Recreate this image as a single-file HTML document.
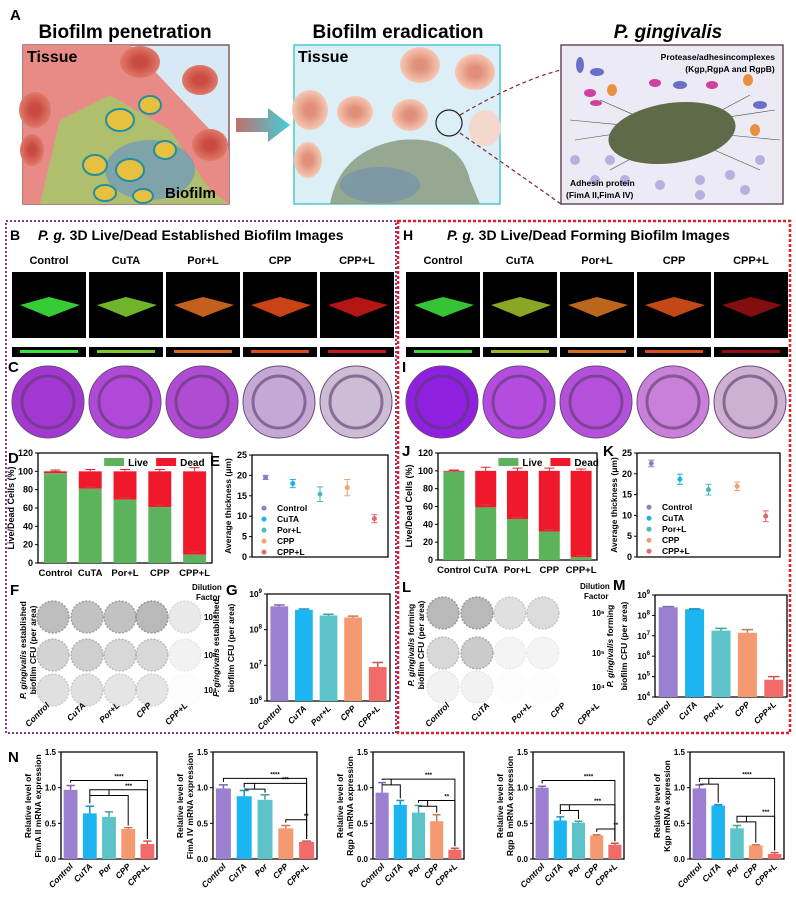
<!DOCTYPE html>
<html><head><meta charset="utf-8">
<style>
html,body{margin:0;padding:0;background:#fff;}
svg{display:block;font-family:"Liberation Sans",Arial,sans-serif;}
.b{font-weight:bold;}
</style></head>
<body>
<svg id="fig" width="796" height="898" viewBox="0 0 796 898" xmlns="http://www.w3.org/2000/svg">
<defs>
<linearGradient id="arrowG" x1="0" x2="1"><stop offset="0" stop-color="#c07070"/><stop offset="1" stop-color="#40d0d8"/></linearGradient>
<radialGradient id="cellG"><stop offset="0.3" stop-color="#c84a40"/><stop offset="1" stop-color="#e07a6a"/></radialGradient>
<radialGradient id="cellP"><stop offset="0.3" stop-color="#e0907a"/><stop offset="1" stop-color="#f6c8b4"/></radialGradient>
</defs>
<g>
<text x="10" y="20" font-size="15" class="b">A</text>
<text x="125" y="38" font-size="19" class="b" text-anchor="middle">Biofilm penetration</text>
<text x="398" y="38" font-size="19" class="b" text-anchor="middle">Biofilm eradication</text>
<text x="668" y="38" font-size="19" class="b" font-style="italic" text-anchor="middle">P. gingivalis</text>
<g>
<rect x="23" y="45" width="206" height="159" fill="#d8e8f4" stroke="#8a5a5a" stroke-width="1.5"/>
<polygon points="23,45 130,45 229,150 229,204 23,204" fill="#e88a86"/>
<ellipse cx="140" cy="62" rx="20" ry="16" fill="url(#cellG)"/><ellipse cx="200" cy="80" rx="18" ry="15" fill="url(#cellG)"/>
<ellipse cx="35" cy="110" rx="16" ry="18" fill="url(#cellG)"/><ellipse cx="210" cy="145" rx="18" ry="16" fill="url(#cellG)"/><ellipse cx="32" cy="150" rx="12" ry="16" fill="url(#cellG)"/>
<polygon points="40,204 60,120 110,95 170,130 210,190 229,204" fill="#a9c46a" opacity="0.9"/>
<ellipse cx="150" cy="170" rx="45" ry="30" fill="#6a98c4" opacity="0.7"/>
<g fill="#e8c040" stroke="#2090a0" stroke-width="2"><ellipse cx="120" cy="120" rx="14" ry="11"/><ellipse cx="150" cy="105" rx="11" ry="9"/><ellipse cx="95" cy="165" rx="12" ry="10"/><ellipse cx="130" cy="170" rx="14" ry="11"/><ellipse cx="165" cy="150" rx="11" ry="9"/><ellipse cx="105" cy="193" rx="11" ry="8"/><ellipse cx="143" cy="196" rx="10" ry="7"/></g>
<text x="27" y="62" font-size="16" class="b">Tissue</text>
<text x="165" y="198" font-size="15" class="b">Biofilm</text>
</g>
<polygon points="236,118 268,118 268,108 290,125 268,142 268,132 236,132" fill="url(#arrowG)"/>
<g>
<rect x="294" y="45" width="206" height="159" fill="#dceef6" stroke="#4cc8cc" stroke-width="1.5"/>
<ellipse cx="420" cy="65" rx="20" ry="18" fill="url(#cellP)"/><ellipse cx="475" cy="72" rx="20" ry="18" fill="url(#cellP)"/><ellipse cx="310" cy="110" rx="18" ry="20" fill="url(#cellP)"/><ellipse cx="355" cy="112" rx="18" ry="16" fill="url(#cellP)"/><ellipse cx="410" cy="115" rx="18" ry="16" fill="url(#cellP)"/><ellipse cx="485" cy="128" rx="16" ry="18" fill="#f3d8cc"/><ellipse cx="308" cy="160" rx="14" ry="18" fill="url(#cellP)"/>
<path d="M330,204 Q340,150 400,140 Q460,135 470,180 L480,204 Z" fill="#8a9a80" opacity="0.85"/>
<ellipse cx="380" cy="185" rx="40" ry="18" fill="#6f8fb0" opacity="0.6"/>
<circle cx="449" cy="123" r="13" fill="none" stroke="#222" stroke-width="1.2"/>
<text x="298" y="62" font-size="16" class="b">Tissue</text>
</g>
<path d="M460,115 Q520,80 561,70 M460,133 Q520,175 561,204" stroke="#7a2a2a" stroke-width="1.2" stroke-dasharray="4,3" fill="none"/>
<g>
<rect x="561" y="45" width="222" height="159" fill="#eceaf4" stroke="#6a4a5a" stroke-width="1.5"/>
<g stroke="#4a4a4a" stroke-width="0.6"><line x1="570" y1="120" x2="780" y2="140"/><line x1="575" y1="140" x2="775" y2="110"/><line x1="600" y1="100" x2="760" y2="170"/><line x1="610" y1="170" x2="750" y2="95"/></g>
<ellipse cx="672" cy="133" rx="64" ry="30" fill="#5e6a48" transform="rotate(-8 672 133)"/>
<g fill="#6a70c8"><ellipse cx="580" cy="65" rx="4" ry="8"/><ellipse cx="597" cy="72" rx="7" ry="4"/><ellipse cx="680" cy="85" rx="7" ry="4"/><ellipse cx="760" cy="105" rx="7" ry="4"/></g>
<g fill="#e89040"><ellipse cx="748" cy="80" rx="5" ry="6"/><ellipse cx="612" cy="90" rx="5" ry="6"/><ellipse cx="755" cy="130" rx="5" ry="6"/></g>
<g fill="#d040a0"><ellipse cx="590" cy="93" rx="6" ry="4"/><ellipse cx="655" cy="83" rx="6" ry="4"/><ellipse cx="712" cy="85" rx="6" ry="4"/><ellipse cx="596" cy="103" rx="6" ry="3"/></g>
<g fill="#b8b0e0"><circle cx="575" cy="160" r="5"/><circle cx="595" cy="180" r="5"/><circle cx="625" cy="180" r="5"/><circle cx="660" cy="185" r="5"/><circle cx="700" cy="180" r="5"/><circle cx="730" cy="175" r="5"/><circle cx="760" cy="160" r="5"/><circle cx="745" cy="190" r="5"/><circle cx="700" cy="195" r="5"/><circle cx="610" cy="160" r="5"/></g>
<text x="775" y="60" font-size="8.5" class="b" text-anchor="end">Protease/adhesincomplexes</text>
<text x="730" y="72" font-size="8.5" class="b" text-anchor="middle">(Kgp,RgpA and RgpB)</text>
<text x="570" y="186" font-size="8.5" class="b">Adhesin protein</text>
<text x="566" y="198" font-size="8.5" class="b">(FimA II,FimA IV)</text>
</g>
</g>
<rect x="6" y="221" width="390" height="512" fill="none" stroke="#7a3a9a" stroke-width="2" stroke-dasharray="2,2"/>
<rect x="398" y="221" width="392" height="512" fill="none" stroke="#e0202a" stroke-width="2.5" stroke-dasharray="3,2"/>
<g font-size="14" class="b">
<text x="10" y="240">B</text>
<text x="38" y="240"><tspan font-style="italic">P. g.</tspan> 3D Live/Dead Established Biofilm Images</text>
<text x="403" y="240">H</text>
<text x="447" y="240"><tspan font-style="italic">P. g.</tspan> 3D Live/Dead Forming Biofilm Images</text>
<text x="8" y="372" font-size="15">C</text>
<text x="402" y="372" font-size="15">I</text>
<text x="8" y="463" font-size="15">D</text>
<text x="210" y="466" font-size="15">E</text>
<text x="402" y="456" font-size="15">J</text>
<text x="603" y="456" font-size="15">K</text>
<text x="10" y="595" font-size="15">F</text>
<text x="226" y="595" font-size="15">G</text>
<text x="402" y="592" font-size="15">L</text>
<text x="613" y="590" font-size="15">M</text>
<text x="8" y="762" font-size="15">N</text>
</g>
<g font-size="8" class="b">
<text x="192" y="590">Dilution</text>
<text x="196" y="600">Factor</text>
<text x="580" y="589">Dilution</text>
<text x="584" y="599">Factor</text>
</g>
<g id="dyn"></g>
</svg>
<script>
const groups = ["Control","CuTA","Por+L","CPP","CPP+L"];
const nGroups = ["Control","CuTA","Por","CPP","CPP+L"];
const colors = ["#9b7fd1","#1db4f2","#5cc4c8","#f59a70","#f26b6b"];
const liveEst = [98, 81, 69, 61, 9];
const liveEstErr = [2, 2, 2, 2, 3];
const deadEstErr = [1.5, 2, 2, 2, 4];
const liveForm = [99, 59, 46, 32, 3];
const liveFormErr = [1, 3, 2, 2, 2];
const deadFormErr = [1, 4, 3, 3, 2];
const thickEst = [19.5, 18.0, 15.4, 17.0, 9.4];
const thickEstErr = [0.5, 1.0, 1.8, 2.0, 1.0];
const thickForm = [22.5, 18.7, 16.2, 17.0, 9.8];
const thickFormErr = [0.8, 1.2, 1.3, 1.0, 1.3];
const cfuEst = [4.5e8, 3.6e8, 2.5e8, 2.2e8, 9e6];
const cfuEstErr = [0.4e8, 0.2e8, 0.2e8, 0.2e8, 3e6];
const cfuForm = [2.5e8, 2.0e8, 1.8e7, 1.4e7, 7e4];
const cfuFormErr = [0.2e8, 0.1e8, 0.5e7, 0.6e7, 3e4];
const fimA2 = [0.97, 0.64, 0.59, 0.42, 0.21];
const fimA2Err = [0.06, 0.10, 0.07, 0.02, 0.04];
const fimA4 = [0.99, 0.88, 0.83, 0.43, 0.24];
const fimA4Err = [0.05, 0.08, 0.07, 0.04, 0.01];
const rgpA = [0.93, 0.76, 0.65, 0.53, 0.13];
const rgpAErr = [0.14, 0.06, 0.10, 0.09, 0.02];
const rgpB = [1.00, 0.54, 0.51, 0.33, 0.20];
const rgpBErr = [0.02, 0.05, 0.02, 0.01, 0.02];
const kgp = [0.99, 0.75, 0.43, 0.19, 0.07];
const kgpErr = [0.05, 0.01, 0.04, 0.01, 0.02];
const imgEstColors = ["#3ce23c","#7cc830","#d86a20","#e04a18","#c81818"];
const imgFormColors = ["#3cd83c","#9ab828","#d07020","#d85018","#901010"];
const wellEst = ["#a238d0","#b048d8","#b04cd2","#c6a8d6","#ccbcd4"];
const wellForm = ["#9020e0","#b44ce0","#b450da","#c880d8","#d0b0d2"];
const plateEst = [[0.75,0.7,0.7,0.8,0.25],[0.5,0.55,0.45,0.45,0.15],[0.35,0.35,0.3,0.3,0.03]];
const plateForm = [[0.8,0.8,0.35,0.4],[0.45,0.6,0.12,0.12],[0.15,0.15,0.02,0.02]];
const dilutions = ["10⁶","10⁵","10⁴"];

const NS = "http://www.w3.org/2000/svg";
const root = document.getElementById("dyn");
function mk(tag, attrs, parent) {
  const e = document.createElementNS(NS, tag);
  for (const k in attrs) e.setAttribute(k, attrs[k]);
  (parent || root).appendChild(e);
  return e;
}
function txt(s, x, y, size, extra, parent) {
  const t = mk("text", Object.assign({x:x, y:y, "font-size":size, "font-weight":"bold"}, extra || {}), parent);
  t.textContent = s;
  return t;
}
function imageRow(x0, cols, tag) {
  for (let i = 0; i < 5; i++) {
    const x = x0 + i * 77;
    const lab = txt(groups[i], x + 37, 264, 11, {"text-anchor":"middle"});
    
    
    const im = mk("rect", {x:x, y:272, width:74, height:66, fill:"#000"});
    
    
    const sl = mk("polygon", {points:(x+8)+",305 "+(x+37)+",297 "+(x+68)+",305 "+(x+37)+",317", fill:cols[i], opacity:0.9});
    
    
    const st = mk("rect", {x:x, y:347, width:74, height:10, fill:"#000"});
    
    
    const ln = mk("rect", {x:x+8, y:350, width:58, height:3, fill:cols[i]});
    
    
  }
}
imageRow(12, imgEstColors, "established");
imageRow(406, imgFormColors, "forming");

function wells(x0, cols, tag) {
  for (let i = 0; i < 5; i++) {
    const cx = x0 + i * 77;
    const g = mk("g", {});
    
    
    mk("circle", {cx:cx, cy:402, r:36, fill:cols[i], stroke:"#6a4a7a", "stroke-width":1}, g);
    mk("circle", {cx:cx, cy:402, r:26, fill:"none", stroke:"#5a3a6a", "stroke-width":3, opacity:0.6}, g);
    mk("circle", {cx:cx, cy:402, r:24, fill:cols[i], opacity:0.8}, g);
  }
}
wells(48, wellEst, "established");
wells(442, wellForm, "forming");

function plates(xs, ys, dens, dx, tag) {
  for (let r = 0; r < 3; r++) {
    for (let c = 0; c < dens[r].length; c++) {
      const p = mk("circle", {cx:xs[c], cy:ys[r], r:16, fill:"#606060", "fill-opacity":dens[r][c]*0.55, stroke:"#888", "stroke-opacity":dens[r][c], "stroke-width":1.5, "stroke-dasharray":"2,1.5"});
      
      
    }
    const d = txt(dilutions[r], dx, ys[r] + 3, 8);
    
    
  }
}
plates([53,87,120,152,185], [617,655,690], plateEst, 204, "established");
plates([443,477,510,543], [613,653,687], plateForm, 592, "forming");

function rotLabels(labels, xs, y, size, tag) {
  labels.forEach((s, i) => {
    const t = txt(s, xs[i], y, size, {"text-anchor":"end", "font-style":"italic", transform:"rotate(-45 " + xs[i] + " " + y + ")"});
    
    
  });
}
rotLabels(groups, [50,86,120,152,188], 706, 8.5, "plates-f");
rotLabels(["Control","CuTA","Por+L","CPP","CPP+L"], [450,490,532,566,600], 706, 8.5, "plates-l");

function vText(s, x, y, size, tag) {
  const t = txt(s, x, y, size, {"text-anchor":"middle", transform:"rotate(-90 " + x + " " + y + ")"});
  
  
  return t;
}
{ const t = vText("", 26, 650, 8.5, "f-y-title"); t.innerHTML = '<tspan font-style="italic">P. gingivalis</tspan> established'; vText("biofilm CFU (per area)", 36, 650, 8.5, "f-y-title-2"); }
{ const t = vText("", 414, 645, 8.5, "l-y-title"); t.innerHTML = '<tspan font-style="italic">P. gingivalis</tspan> forming'; vText("biofilm CFU (per area)", 424, 645, 8.5, "l-y-title-2"); }

function linY(v, min, max, top, bot) { return bot - (v - min) / (max - min) * (bot - top); }
function logY(v, min, max, top, bot) { return bot - (Math.log10(v) - min) / (max - min) * (bot - top); }
function bandX(i, n, x0, x1) { const w = (x1 - x0) / n; return x0 + w * (i + 0.5); }

function frame(x0, x1, top, bot, tag) {
  const f = mk("path", {d:"M"+x0+","+top+" V"+bot+" H"+x1+" V"+top+" H"+x0, fill:"none", stroke:"#000", "stroke-width":1.3});
  
  
}
function yTicksLin(ticks, min, max, x0, top, bot, size, tag, dec) {
  ticks.forEach(t => {
    const y = linY(t, min, max, top, bot);
    mk("line", {x1:x0-3, x2:x0, y1:y, y2:y, stroke:"#000", "stroke-width":1});
    const l = txt(dec ? t.toFixed(1) : String(t), x0 - 5, y + 3, size, {"text-anchor":"end"});
    
    
  });
}
function yTicksLog(exps, min, max, x0, top, bot, tag) {
  exps.forEach(e => {
    const y = logY(Math.pow(10, e), min, max, top, bot);
    mk("line", {x1:x0-3, x2:x0, y1:y, y2:y, stroke:"#000", "stroke-width":1});
    const l = mk("text", {x:x0-5, y:y+3, "font-size":8.5, "font-weight":"bold", "text-anchor":"end"});
    l.innerHTML = '10<tspan font-size="6" dy="-4">' + e + '</tspan>';
    
    
  });
}

const ldTicks = [0, 20, 40, 60, 80, 100, 120];
function stacked(live, lErr, dErr, x0, x1, top, bot, tag) {
  frame(x0, x1, top, bot, tag);
  yTicksLin(ldTicks, 0, 120, x0, top, bot, 9, tag);
  const bw = (x1 - x0) / 5 * 0.66;
  live.forEach((v, i) => {
    const cx = bandX(i, 5, x0, x1);
    const y100 = linY(100, 0, 120, top, bot), yl = linY(v, 0, 120, top, bot);
    const d = mk("rect", {x:cx-bw/2, y:y100, width:bw, height:yl-y100, fill:"#f0192c"});
    
    
    const l = mk("rect", {x:cx-bw/2, y:yl, width:bw, height:bot-yl, fill:"#5cb35c"});
    
    
    const ye = linY(100 + dErr[i], 0, 120, top, bot);
    mk("path", {d:"M"+cx+","+y100+" V"+ye+" M"+(cx-5)+","+ye+" H"+(cx+5), stroke:"#e02030", "stroke-width":1});
    const yle = linY(v + lErr[i], 0, 120, top, bot);
    mk("path", {d:"M"+cx+","+yl+" V"+yle+" M"+(cx-5)+","+yle+" H"+(cx+5), stroke:"#d04050", "stroke-width":1});
    const c = txt(groups[i], cx, bot + 13, 9.5, {"text-anchor":"middle"});
    
    
  });
  const lg = mk("g", {});
  
  
  const lx = x0 + (x1 - x0) * 0.38;
  mk("rect", {x:lx, y:top+5, width:20, height:8, fill:"#5cb35c"}, lg);
  txt("Live", lx + 24, top + 13, 10, {}, lg);
  mk("rect", {x:lx+52, y:top+5, width:20, height:8, fill:"#f0192c"}, lg);
  txt("Dead", lx + 76, top + 13, 10, {}, lg);
}
stacked(liveEst, liveEstErr, deadEstErr, 38, 212, 453, 563, "d");
vText("Live/Dead Cells (%)", 14, 508, 9, "d-y-title");
stacked(liveForm, liveFormErr, deadFormErr, 438, 597, 453, 560, "j");
vText("Live/Dead Cells (%)", 412, 506, 9, "j-y-title");

const thTicks = [0, 5, 10, 15, 20, 25];
const thColors = ["#8a80c8","#1db4e2","#4ab8b8","#f0a070","#e06a70"];
function scatter(vals, errs, x0, x1, top, bot, tag) {
  frame(x0, x1, top, bot, tag);
  yTicksLin(thTicks, 0, 25, x0, top, bot, 9, tag);
  vals.forEach((v, i) => {
    const cx = x0 + (x1 - x0) * (0.1 + i * 0.2);
    const y = linY(v, 0, 25, top, bot);
    const y1 = linY(v + errs[i], 0, 25, top, bot), y2 = linY(v - errs[i], 0, 25, top, bot);
    const eb = mk("path", {d:"M"+cx+","+y1+" V"+y2+" M"+(cx-3)+","+y1+" H"+(cx+3)+" M"+(cx-3)+","+y2+" H"+(cx+3), stroke:thColors[i], "stroke-width":1});
    
    
    const p = mk("circle", {cx:cx, cy:y, r:2.5, fill:thColors[i]});
    
    
    const ly = top + (bot - top) * 0.55 + i * 11;
    const lm = mk("circle", {cx:x0 + 12, cy:ly - 3, r:2.5, fill:thColors[i]});
    
    
    const lt = txt(groups[i], x0 + 25, ly, 8.5, {});
    
    
  });
}
scatter(thickEst, thickEstErr, 252, 388, 455, 557, "e");
vText("Average thickness (μm)", 231, 506, 8.5, "e-y-title");
scatter(thickForm, thickFormErr, 637, 780, 453, 557, "k");
vText("Average thickness (μm)", 617, 505, 8.5, "k-y-title");

function bars(vals, errs, cats, opt) {
  const {x0, x1, top, bot, min, max, log, tag} = opt;
  frame(x0, x1, top, bot, tag);
  const Y = v => log ? logY(v, min, max, top, bot) : linY(v, min, max, top, bot);
  const bw = (x1 - x0) / cats.length * 0.72;
  vals.forEach((v, i) => {
    const cx = bandX(i, cats.length, x0, x1);
    const y = Y(v);
    const b = mk("rect", {x:cx-bw/2, y:y, width:bw, height:bot-y, fill:colors[i]});
    
    
    const ye = Y(v + errs[i]);
    const e = mk("path", {d:"M"+cx+","+y+" V"+ye+" M"+(cx-bw*0.3)+","+ye+" H"+(cx+bw*0.3), stroke:colors[i], "stroke-width":1.5, filter:"brightness(0.8)"});
    
    
    const ly = bot + 8;
    const c = txt(cats[i], cx + 3, ly, opt.fs || 8.5, {"text-anchor":"end", "font-style":"italic", transform:"rotate(-45 " + (cx+3) + " " + ly + ")"});
    
    
  });
  return {Y: Y, X: i => bandX(i, cats.length, x0, x1)};
}
bars(cfuEst, cfuEstErr, groups, {x0:267, x1:390, top:594, bot:701, min:6, max:9, log:true, tag:"g"});
yTicksLog([6,7,8,9], 6, 9, 267, 594, 701, "g");
vText("", 219, 648, 8.5, "g-y-title").innerHTML = '<tspan font-style="italic">P. gingivalis</tspan> established';
vText("biofilm CFU (per area)", 234, 648, 8.5, "g-y-title-2");
bars(cfuForm, cfuFormErr, groups, {x0:655, x1:787, top:595, bot:697, min:4, max:9, log:true, tag:"m"});
yTicksLog([4,5,6,7,8,9], 4, 9, 655, 595, 697, "m");
vText("", 613, 646, 8.5, "m-y-title").innerHTML = '<tspan font-style="italic">P. gingivalis</tspan> forming';
vText("biofilm CFU (per area)", 627, 646, 8.5, "m-y-title-2");

const nTicks = [0, 0.5, 1.0, 1.5];
const nTitles = ["FimA II mRNA expression","FimA IV mRNA expression","Rgp A mRNA expression","Rgp B mRNA expression","Kgp mRNA expression"];
const nSeries = [fimA2, fimA4, rgpA, rgpB, kgp];
const nErrs = [fimA2Err, fimA4Err, rgpAErr, rgpBErr, kgpErr];
const nX = [[61,157],[213,317],[373,464],[533,624],[690,784]];
const nSig = [
  [[[0],4,1.10,"****"],[[1,2,3],4,0.97,"***"]],
  [[[0],4,1.13,"****"],[[1,2],4,1.06,"***"],[[3],4,0.55,"**"]],
  [[[0,1],4,1.12,"***"],[[2,3],4,0.82,"**"]],
  [[[0],4,1.10,"****"],[[1,2],4,0.76,"***"],[[3],4,0.42,"**"]],
  [[[0,1],4,1.13,"****"],[[2,3],4,0.60,"***"]]
];
nSeries.forEach((vals, k) => {
  const [x0, x1] = nX[k];
  const tag = "n" + (k + 1);
  const ax = bars(vals, nErrs[k], nGroups, {x0:x0, x1:x1, top:752, bot:859, min:0, max:1.5, log:false, tag:tag, fs:8.5});
  yTicksLin(nTicks, 0, 1.5, x0, 752, 859, 8, tag, true);
  vText("Relative level of", x0 - 30, 806, 8.5, tag + "-y-title");
  vText(nTitles[k], x0 - 20, 806, 8.5, tag + "-y-title-2");
  nSig[k].forEach(s => {
    const [from, to, h, lab] = s;
    const y = ax.Y(h);
    const xa = ax.X(from[0]), xb = ax.X(to);
    let d = "M" + xa + "," + ax.Y(vals[from[0]] + nErrs[k][from[0]] + 0.04) + " V" + y + " H" + xb + " V" + ax.Y(vals[to] + nErrs[k][to] + 0.03);
    if (from.length > 1) {
      const xl = ax.X(from[from.length - 1]);
      const yl = ax.Y(h - 0.08);
      d += " M" + xa + "," + yl + " H" + xl + " V" + ax.Y(vals[from[from.length-1]] + nErrs[k][from[from.length-1]] + 0.03) + " M" + ((xa+xl)/2) + "," + yl + " V" + y;
    }
    const br = mk("path", {d:d, fill:"none", stroke:"#000", "stroke-width":1});
    
    
    const t = txt(lab, (xa + xb) / 2 + 10, y - 2, 6, {"text-anchor":"middle"});
    
    
  });
});
</script>
</body></html>
